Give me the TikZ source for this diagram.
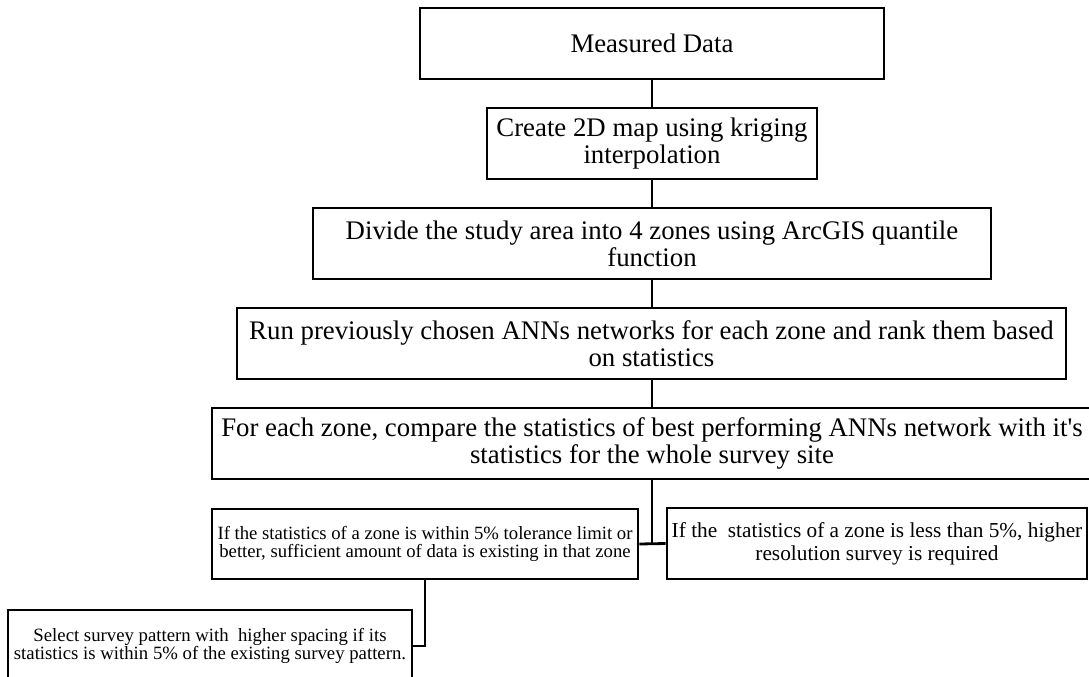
\documentclass[tikz,border=0pt]{standalone}
\usepackage{fontspec}
\setmainfont{Liberation Serif}[Ligatures=TeXOff]
\begin{document}
\begin{tikzpicture}[x=1bp,y=-1bp,
  box/.style={draw, line width=2.8bp, inner sep=0pt, align=center},
  big/.style={font=\fontsize{26.8bp}{26.7bp}\selectfont},
  conn/.style={line width=2.8bp}]
\useasboundingbox (0,0) rectangle (1089,677);
\clip (0,0) rectangle (1089,677);
\node[box, big, minimum width=464bp, minimum height=71bp] (b1) at (652,43.5) {Measured Data};
\node[box, big, minimum width=330bp, minimum height=71bp] (b2) at (652,143.5) {Create 2D map using kriging\\interpolation};
\node[box, big, minimum width=678bp, minimum height=71bp] (b3) at (652,243.5) {Divide the study area into 4 zones using ArcGIS quantile\\function};
\node[box, big, minimum width=829bp, minimum height=71bp] (b4) at (651.5,343.5) {Run previously chosen ANNs networks for each zone and rank them based\\on statistics};
\node[box, big, minimum width=880bp, minimum height=71bp] (b5) at (652,443.5) {For each zone, compare the statistics of best performing ANNs network with it's\\statistics for the whole survey site};
\node[box, minimum width=426bp, minimum height=70bp, font=\fontsize{18.7bp}{18bp}\selectfont] (L) at (425,544) {If the statistics of a zone is within 5\% tolerance limit or\\better, sufficient amount of data is existing in that zone};
\node[box, minimum width=420bp, minimum height=71bp, font=\fontsize{21.3bp}{22.7bp}\selectfont] (R) at (877,543.5) {If the~ statistics of a zone is less than 5\%, higher\\resolution survey is required};
\node[box, minimum width=404bp, minimum height=72bp, font=\fontsize{18.75bp}{17bp}\selectfont] (B) at (210,646) {Select survey pattern with~ higher spacing if its\\statistics is within 5\% of the existing survey pattern.};
\coordinate (j) at (652,543.5);
\draw[conn] (b1) -- (b2);
\draw[conn] (b2) -- (b3);
\draw[conn] (b3) -- (b3 |- b4.north);
\draw[conn] (b4.south -| b5) -- (b5);
\draw[conn] (b5) -- (j);
\draw[conn] (L.east) -- (R.west);
\draw[conn] (L.south) |- (B.east);
\end{tikzpicture}
\end{document}
